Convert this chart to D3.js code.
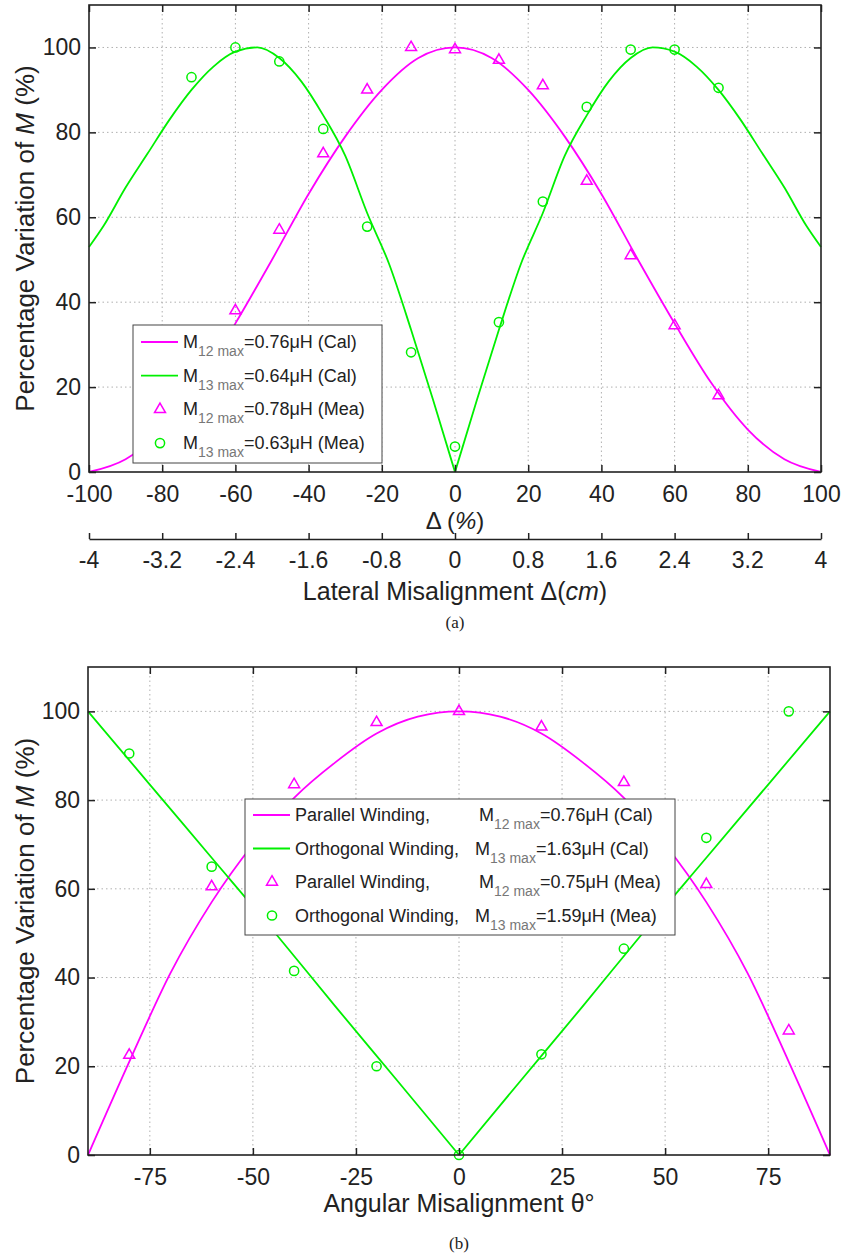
<!DOCTYPE html>
<html>
<head>
<meta charset="utf-8">
<script src="https://cdn.jsdelivr.net/npm/d3@7"></script>
<style>
  body { margin: 0; background: #fff; }
  svg text { font-family: "Liberation Sans", Arial, sans-serif; fill: #222; }
</style>
</head>
<body>
<svg id="fig" width="845" height="1256"></svg>
<script>
// Panel (a): lateral misalignment
const xTicksA = [-100, -80, -60, -40, -20, 0, 20, 40, 60, 80, 100];
const cmTicksA = [-4, -3.2, -2.4, -1.6, -0.8, 0, 0.8, 1.6, 2.4, 3.2, 4];
const yTicks = [0, 20, 40, 60, 80, 100];

const m12CalX = [-100, -90, -80, -70, -60, -50, -40, -30, -20, -10, 0, 10, 20, 30, 40, 50, 60, 70, 80, 90, 100];
const m12CalY = [0, 3, 10, 21, 35, 50, 65.5, 79, 90, 97.5, 100, 97.5, 90, 79, 65.5, 50, 35, 21, 10, 3, 0];

const m13CalX = [-100, -96, -90, -84, -78, -72, -66, -60, -54, -48, -42, -36, -30, -24, -18, -12, -6, 0,
                 6, 12, 18, 24, 30, 36, 42, 48, 54, 60, 66, 72, 78, 84, 90, 96, 100];
const m13CalY = [53, 58, 67, 75, 83, 90, 95.5, 99, 100, 97.5, 92, 84, 74.5, 61, 49, 33.5, 17, 0,
                 17, 33.5, 49, 61, 74.5, 84, 92, 97.5, 100, 99, 95.5, 90, 83, 75, 67, 58, 53];

const m12MeaX = [-72, -60, -48, -36, -24, -12, 0, 12, 24, 36, 48, 60, 72];
const m12MeaY = [18, 38, 57, 75, 90, 100, 99.5, 97, 91, 68.5, 51, 34.5, 18];

const m13MeaX = [-72, -60, -48, -36, -24, -12, 0, 12, 24, 36, 48, 60, 72];
const m13MeaY = [93, 100, 96.7, 80.8, 57.8, 28.2, 6, 35.3, 63.7, 86, 99.5, 99.5, 90.5];

// Panel (b): angular misalignment
const xTicksB = [-75, -50, -25, 0, 25, 50, 75];

const parCalX = [-90, -80, -70, -60, -50, -40, -30, -20, -10, 0, 10, 20, 30, 40, 50, 60, 70, 80, 90];
const parCalY = [0, 21, 41, 57, 70, 80.5, 88.5, 95, 98.8, 100, 98.8, 95, 88.5, 80.5, 70, 57, 41, 21, 0];

const ortCalX = [-90, -75, -60, -45, -30, -15, 0, 15, 30, 45, 60, 75, 90];
const ortCalY = [100, 83.5, 67, 50.5, 33.5, 16.8, 0, 16.8, 33.5, 50.5, 67, 83.5, 100];

const parMeaX = [-80, -60, -40, -20, 0, 20, 40, 60, 80];
const parMeaY = [22.5, 60.5, 83.5, 97.5, 100, 96.5, 84, 61, 28];

const ortMeaX = [-80, -60, -40, -20, 0, 20, 40, 60, 80];
const ortMeaY = [90.5, 65, 41.5, 20, 0, 22.7, 46.5, 71.5, 100];

const [magenta, green] = ["#ff00ff", "#00f000"];

const svg = d3.select("#fig");
const hyphen = d => String(d);

function zip(xs, ys) { return xs.map((x, i) => [x, ys[i]]); }

function panel(cfg) {
  const x = d3.scaleLinear().domain(cfg.xDomain).range([cfg.left, cfg.right]);
  const y = d3.scaleLinear().domain([0, 110]).range([cfg.bottom, cfg.top]);
  const g = svg.append("g");

  // grid
  g.selectAll("line.vgrid").data(cfg.xTicks.filter(d => d > cfg.xDomain[0] && d < cfg.xDomain[1])).enter()
    .append("line")
    .attr("x1", d => x(d)).attr("x2", d => x(d))
    .attr("y1", cfg.top).attr("y2", cfg.bottom)
    .attr("stroke", "#b0b0b0").attr("stroke-dasharray", "1.5,3");
  g.selectAll("line.hgrid").data(yTicks.filter(d => d > 0)).enter()
    .append("line")
    .attr("x1", cfg.left).attr("x2", cfg.right)
    .attr("y1", d => y(d)).attr("y2", d => y(d))
    .attr("stroke", "#b0b0b0").attr("stroke-dasharray", "1.5,3");

  // curves (V-shaped ones are drawn as two smooth halves)
  const line = d3.line().x(d => x(d[0])).y(d => y(d[1])).curve(d3.curveMonotoneX);
  cfg.curves.forEach(c => {
    const pts = zip(c.x, c.y);
    const pieces = c.split ? [pts.filter(d => d[0] <= 0), pts.filter(d => d[0] >= 0)] : [pts];
    pieces.forEach(p => {
      g.append("path")
        .datum(p)
        .attr("fill", "none")
        .attr("stroke", c.color)
        .attr("stroke-width", 1.8)
        .attr("d", line);
    });
  });

  // markers
  const tri = d3.symbol().type(d3.symbolTriangle).size(52);
  g.selectAll("path.tri").data(zip(cfg.triX, cfg.triY)).enter()
    .append("path")
    .attr("d", tri)
    .attr("transform", d => `translate(${x(d[0])},${y(d[1])})`)
    .attr("fill", "none").attr("stroke", magenta).attr("stroke-width", 1.5);
  g.selectAll("circle.o").data(zip(cfg.cirX, cfg.cirY)).enter()
    .append("circle")
    .attr("cx", d => x(d[0])).attr("cy", d => y(d[1])).attr("r", 4.6)
    .attr("fill", "none").attr("stroke", green).attr("stroke-width", 1.5);

  // axes with inward ticks on all sides
  const tick = 7;
  g.append("g").attr("transform", `translate(0,${cfg.bottom})`)
    .call(d3.axisBottom(x).tickValues(cfg.xTicks).tickFormat(hyphen).tickSizeInner(-tick).tickSizeOuter(0).tickPadding(14))
    .call(a => a.select(".domain").remove())
    .call(a => a.selectAll("text").attr("font-size", 23).attr("fill", "#222"));
  g.append("g").attr("transform", `translate(0,${cfg.top})`)
    .call(d3.axisTop(x).tickValues(cfg.xTicks).tickSizeInner(-tick).tickSizeOuter(0).tickFormat(""))
    .call(a => a.select(".domain").remove());
  g.append("g").attr("transform", `translate(${cfg.left},0)`)
    .call(d3.axisLeft(y).tickValues(yTicks).tickSizeInner(-tick).tickSizeOuter(0).tickPadding(8))
    .call(a => a.select(".domain").remove())
    .call(a => a.selectAll("text").attr("font-size", 23).attr("fill", "#222"));
  g.append("g").attr("transform", `translate(${cfg.right},0)`)
    .call(d3.axisRight(y).tickValues(yTicks).tickSizeInner(-tick).tickSizeOuter(0).tickFormat(""))
    .call(a => a.select(".domain").remove());
  g.selectAll(".tick line").attr("stroke", "#222").attr("stroke-width", 1.5);

  g.append("rect")
    .attr("x", cfg.left).attr("y", cfg.top)
    .attr("width", cfg.right - cfg.left).attr("height", cfg.bottom - cfg.top)
    .attr("fill", "none").attr("stroke", "#222").attr("stroke-width", 1.6);

  // y label
  g.append("text")
    .attr("transform", `translate(34,${(cfg.top + cfg.bottom) / 2}) rotate(-90)`)
    .attr("text-anchor", "middle").attr("font-size", 26)
    .html('Percentage Variation of <tspan font-style="italic">M</tspan> (%)');

  return { x, y, g };
}

// legend row helper
function legendRow(g, lx, ly, kind, color, parts) {
  if (kind === "line") {
    g.append("line").attr("x1", lx).attr("x2", lx + 37).attr("y1", ly).attr("y2", ly)
      .attr("stroke", color).attr("stroke-width", 1.8);
  } else if (kind === "tri") {
    g.append("path").attr("d", d3.symbol().type(d3.symbolTriangle).size(52))
      .attr("transform", `translate(${lx + 19},${ly})`)
      .attr("fill", "none").attr("stroke", color).attr("stroke-width", 1.5);
  } else {
    g.append("circle").attr("cx", lx + 19).attr("cy", ly).attr("r", 4.6)
      .attr("fill", "none").attr("stroke", color).attr("stroke-width", 1.5);
  }
  parts.forEach(p => {
    g.append("text").attr("x", p.x).attr("y", ly + 6).attr("font-size", 18)
      .html(p.html);
  });
}

function mText(sub, rest) {
  return `M<tspan dy="8" font-size="14" fill="#777">${sub}</tspan><tspan dy="-8">${rest}</tspan>`;
}

// ---------- panel (a)
const pa = panel({
  xDomain: [-100, 100], left: 89, right: 821, top: 5, bottom: 472,
  xTicks: xTicksA,
  curves: [
    { x: m12CalX, y: m12CalY, color: magenta },
    { x: m13CalX, y: m13CalY, color: green, split: true }
  ],
  triX: m12MeaX, triY: m12MeaY, cirX: m13MeaX, cirY: m13MeaY
});

pa.g.append("text").attr("x", 455).attr("y", 529).attr("text-anchor", "middle").attr("font-size", 24)
  .html('Δ (<tspan font-style="italic">%</tspan>)');

// secondary cm axis
const cmScale = d3.scaleLinear().domain([-4, 4]).range([89, 821]);
svg.append("g").attr("transform", "translate(0,539)")
  .call(d3.axisTop(cmScale).tickValues(cmTicksA).tickSizeInner(6).tickSizeOuter(0).tickFormat(""))
  .call(a => a.select(".domain").attr("stroke", "#222").attr("stroke-width", 1.6))
  .call(a => a.selectAll(".tick line").attr("stroke", "#222").attr("stroke-width", 1.5));
svg.append("g").selectAll("text").data(cmTicksA).enter()
  .append("text")
  .attr("x", d => cmScale(d)).attr("y", 568).attr("text-anchor", "middle").attr("font-size", 23)
  .text(hyphen);
svg.append("text").attr("x", 455).attr("y", 600).attr("text-anchor", "middle").attr("font-size", 25)
  .html('Lateral Misalignment Δ(<tspan font-style="italic">cm</tspan>)');
svg.append("text").attr("x", 455).attr("y", 628).attr("text-anchor", "middle").attr("font-size", 17)
  .style("font-family", "'Liberation Serif', 'Times New Roman', serif").text("(a)");

// legend (a)
const legA = svg.append("g");
legA.append("rect").attr("x", 133).attr("y", 325).attr("width", 249).attr("height", 138)
  .attr("fill", "#fff").attr("stroke", "#444").attr("stroke-width", 1);
const legAItems = [
  ["line", magenta, "12 max", "=0.76μH (Cal)"],
  ["line", green, "13 max", "=0.64μH (Cal)"],
  ["tri", magenta, "12 max", "=0.78μH (Mea)"],
  ["circle", green, "13 max", "=0.63μH (Mea)"]
];
legAItems.forEach((it, i) => {
  legendRow(legA, 141, 342 + i * 33.7, it[0], it[1], [{ x: 183, html: mText(it[2], it[3]) }]);
});

// ---------- panel (b)
const pb = panel({
  xDomain: [-90, 90], left: 88, right: 830, top: 667, bottom: 1155,
  xTicks: xTicksB,
  curves: [
    { x: parCalX, y: parCalY, color: magenta },
    { x: ortCalX, y: ortCalY, color: green, split: true }
  ],
  triX: parMeaX, triY: parMeaY, cirX: ortMeaX, cirY: ortMeaY
});

svg.append("text").attr("x", 459).attr("y", 1212).attr("text-anchor", "middle").attr("font-size", 25)
  .text("Angular Misalignment θ°");
svg.append("text").attr("x", 459).attr("y", 1249).attr("text-anchor", "middle").attr("font-size", 17)
  .style("font-family", "'Liberation Serif', 'Times New Roman', serif").text("(b)");

// legend (b)
const legB = svg.append("g");
legB.append("rect").attr("x", 245).attr("y", 799).attr("width", 430).attr("height", 136)
  .attr("fill", "#fff").attr("stroke", "#444").attr("stroke-width", 1);
const legBItems = [
  ["line", magenta, "Parallel Winding,", 479, "12 max", "=0.76μH (Cal)"],
  ["line", green, "Orthogonal Winding,", 475, "13 max", "=1.63μH (Cal)"],
  ["tri", magenta, "Parallel Winding,", 479, "12 max", "=0.75μH (Mea)"],
  ["circle", green, "Orthogonal Winding,", 475, "13 max", "=1.59μH (Mea)"]
];
legBItems.forEach((it, i) => {
  legendRow(legB, 253, 815 + i * 33.5, it[0], it[1], [
    { x: 295, html: it[2] },
    { x: it[3], html: mText(it[4], it[5]) }
  ]);
});
</script>
</body>
</html>
